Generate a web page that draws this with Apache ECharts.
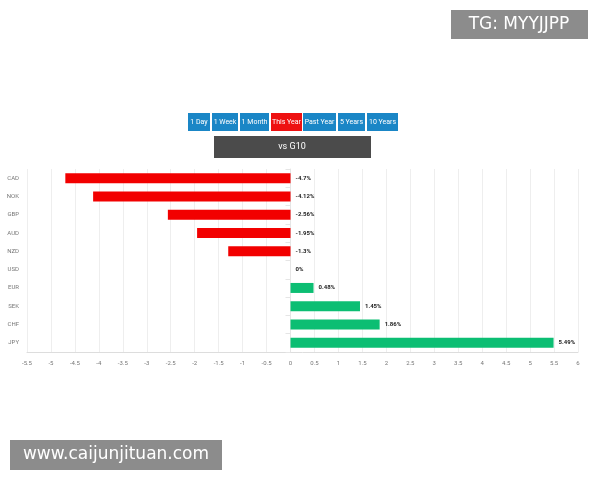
<!DOCTYPE html>
<html><head><meta charset="utf-8">
<script src="https://cdn.jsdelivr.net/npm/echarts@6/dist/echarts.min.js"></script>
<style>html,body{margin:0;padding:0;background:#fff}#c{width:600px;height:480px}</style>
</head><body><div id="c"></div>
<script>
const currencies = ['CAD', 'NOK', 'GBP', 'AUD', 'NZD', 'USD', 'EUR', 'SEK', 'CHF', 'JPY'];
const changes = [-4.7, -4.12, -2.56, -1.95, -1.3, 0, 0.48, 1.45, 1.86, 5.49];
const buttons = ['1 Day', '1 Week', '1 Month', 'This Year', 'Past Year', '5 Years', '10 Years'];
const buttonX = [188, 212, 240, 271, 303, 338, 367];
const buttonW = [22, 26, 29, 31, 33, 27, 31];

const graphics = [];
buttons.forEach((b, i) => {
  graphics.push({
    type: 'rect', left: buttonX[i], top: 113, shape: { width: buttonW[i], height: 18 },
    style: { fill: b === 'This Year' ? '#ee1111' : '#1a86c6' }
  });
  graphics.push({
    type: 'text', x: buttonX[i] + buttonW[i] / 2, y: 122,
    style: { text: b, fill: '#fff', font: '7px Roboto', align: 'center', verticalAlign: 'middle' }
  });
});
graphics.push({ type: 'rect', left: 214, top: 136, shape: { width: 157, height: 22 }, style: { fill: '#4b4b4b' } });
graphics.push({ type: 'text', x: 292, y: 147, style: { text: 'vs G10', fill: '#fff', font: '9px Roboto', align: 'center', verticalAlign: 'middle' } });
graphics.push({ type: 'rect', left: 451, top: 10, shape: { width: 137, height: 29 }, style: { fill: '#8c8c8c' } });
graphics.push({ type: 'text', x: 519, y: 25, style: { text: 'TG: MYYJJPP', fill: '#fff', font: '17px "DejaVu Sans"', align: 'center', verticalAlign: 'middle' } });
graphics.push({ type: 'rect', left: 10, top: 440, shape: { width: 212, height: 30 }, style: { fill: '#8c8c8c' } });
graphics.push({ type: 'text', x: 116, y: 455, style: { text: 'www.caijunjituan.com', fill: '#fff', font: '17px "DejaVu Sans"', align: 'center', verticalAlign: 'middle' } });

echarts.init(document.getElementById('c')).setOption({
  animation: false,
  graphic: graphics,
  grid: { left: 27, right: 22, top: 169, bottom: 128 },
  xAxis: {
    type: 'value', min: -5.5, max: 6, interval: 0.5,
    axisLine: { show: true, lineStyle: { color: '#ddd' } },
    axisTick: { show: false },
    axisLabel: { fontSize: 6, color: '#777', fontFamily: 'Roboto' },
    splitLine: { lineStyle: { color: '#eee' } }
  },
  yAxis: {
    type: 'category', data: currencies, inverse: true,
    axisLine: { show: true, lineStyle: { color: '#e5e5e5' } },
    axisTick: { show: true, lineStyle: { color: '#e5e5e5' } },
    axisLabel: { fontSize: 6, color: '#777', fontFamily: 'Roboto', margin: 8 }
  },
  series: [{
    type: 'bar', barWidth: 10,
    data: changes.map(v => ({ value: v, itemStyle: { color: v < 0 ? '#f20000' : '#0cbe73' } })),
    label: {
      show: true, fontSize: 6, fontWeight: 'bold', color: '#222', fontFamily: 'Roboto',
      position: 'right', formatter: p => p.value + '%'
    },
    labelLayout: p => null
  }]
});
</script></body></html>
